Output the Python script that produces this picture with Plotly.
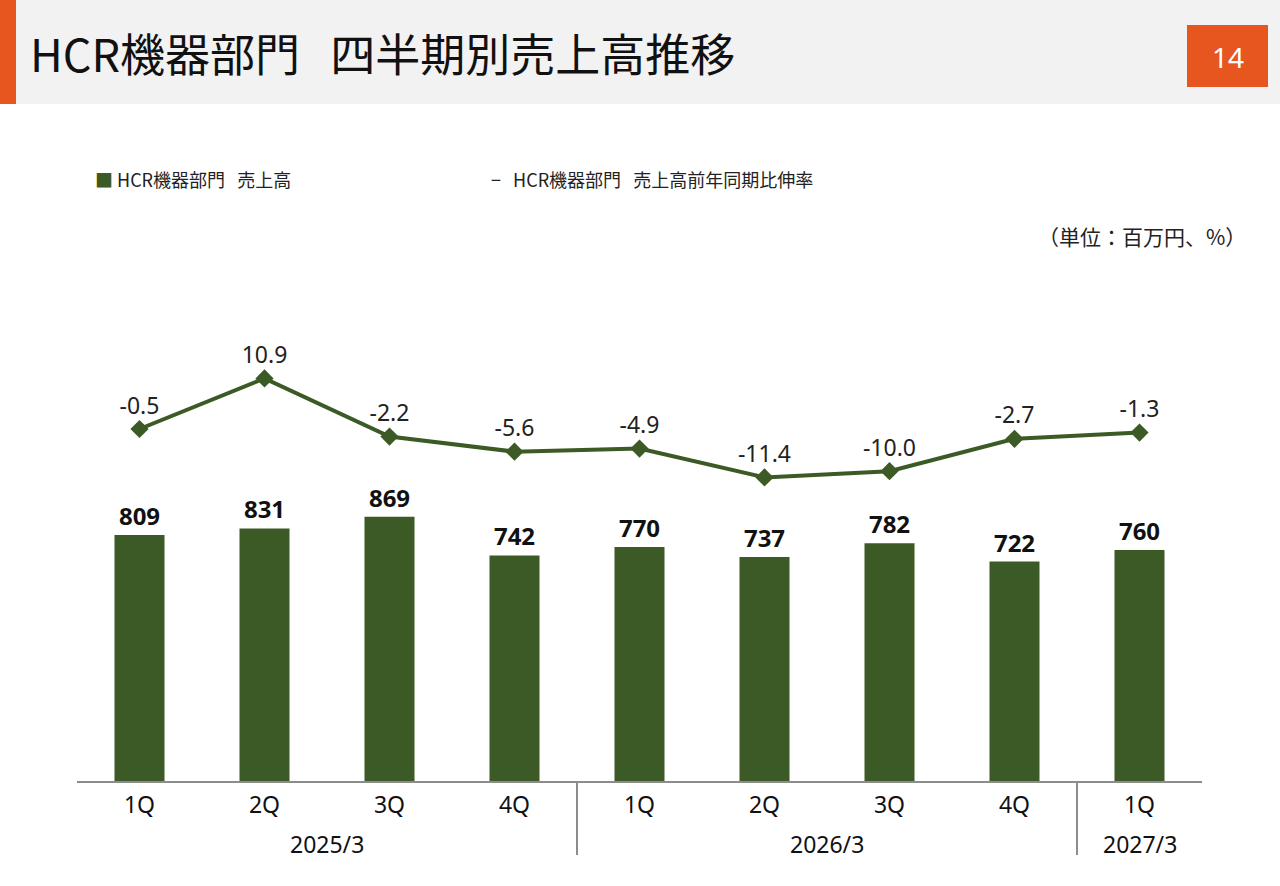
import plotly.graph_objects as go

# data
quarters = ["1Q", "2Q", "3Q", "4Q", "1Q", "2Q", "3Q", "4Q", "1Q"]
fiscal_years = ["2025/3", "2025/3", "2025/3", "2025/3",
                "2026/3", "2026/3", "2026/3", "2026/3", "2027/3"]
sales = [809, 831, 869, 742, 770, 737, 782, 722, 760]
yoy_growth = [-0.5, 10.9, -2.2, -5.6, -4.9, -11.4, -10.0, -2.7, -1.3]

GREEN = "#3c5a25"
ORANGE = "#e8561f"
FONT = "Noto Sans CJK JP"
NUM_FONT = "Noto Sans"

W, H = 1280, 886
L, R = 77, 78
TOP, BOT = 300, 781


def px_x(px):
    # pixel -> paper x
    return (px - L) / (W - L - R)


def px_y(px):
    # pixel -> paper y
    return (BOT - px) / (BOT - TOP)


x = list(range(len(quarters)))

fig = go.Figure()

fig.add_trace(go.Bar(
    x=x, y=sales,
    name="HCR機器部門  売上高",
    marker=dict(color=GREEN, line=dict(width=0)),
    width=0.4,
    text=[f"{v}" for v in sales],
    textposition="outside",
    textfont=dict(family=NUM_FONT, size=24, color="#111111", weight="bold"),
    cliponaxis=False,
    showlegend=False,
))

fig.add_trace(go.Scatter(
    x=x, y=yoy_growth,
    yaxis="y2",
    name="HCR機器部門  売上高前年同期比伸率",
    mode="lines+markers+text",
    line=dict(color=GREEN, width=4),
    marker=dict(symbol="diamond", size=14, color=GREEN),
    text=[f"{v:.1f}" for v in yoy_growth],
    textposition="top center",
    textfont=dict(family=NUM_FONT, size=23, color="#222222"),
    cliponaxis=False,
    showlegend=False,
))

# group labels and dividers on the x axis
groups = []
for i, fy in enumerate(fiscal_years):
    if not groups or groups[-1][0] != fy:
        groups.append([fy, i, i])
    else:
        groups[-1][2] = i

annotations = []
shapes = []
for k, (fy, a, b) in enumerate(groups):
    annotations.append(dict(
        x=(a + b) / 2, xref="x", y=px_y(844), yref="paper",
        text=fy, showarrow=False, xanchor="center", yanchor="middle",
        font=dict(family=NUM_FONT, size=23, color="#111111"),
    ))
    if k > 0:
        shapes.append(dict(
            type="line", xref="x", yref="paper",
            x0=a - 0.5, x1=a - 0.5, y0=0, y1=px_y(855),
            line=dict(color="#8c8c8c", width=2),
        ))

# header band, accent strip and page box
shapes += [
    dict(type="rect", xref="paper", yref="paper", layer="below",
         x0=px_x(0), x1=px_x(W), y0=px_y(104), y1=px_y(0),
         fillcolor="#f2f2f2", line=dict(width=0)),
    dict(type="rect", xref="paper", yref="paper",
         x0=px_x(0), x1=px_x(16), y0=px_y(104), y1=px_y(0),
         fillcolor=ORANGE, line=dict(width=0)),
    dict(type="rect", xref="paper", yref="paper",
         x0=px_x(1187), x1=px_x(1268), y0=px_y(87), y1=px_y(25),
         fillcolor=ORANGE, line=dict(width=0)),
]

annotations += [
    dict(x=px_x(28), y=px_y(53), xref="paper", yref="paper",
         text="HCR機器部門&nbsp;&nbsp;&nbsp;四半期別売上高推移", showarrow=False,
         xanchor="left", yanchor="middle",
         font=dict(family=FONT, size=45, color="#111111")),
    dict(x=px_x(1228), y=px_y(57), xref="paper", yref="paper",
         text="14", showarrow=False, xanchor="center", yanchor="middle",
         font=dict(family=NUM_FONT, size=28, color="#ffffff")),
    dict(x=px_x(93), y=px_y(179), xref="paper", yref="paper",
         text=f"<span style='color:{GREEN}'>■</span> HCR機器部門&nbsp;&nbsp;&nbsp;売上高",
         showarrow=False, xanchor="left", yanchor="middle",
         font=dict(family=FONT, size=18, color="#222222")),
    dict(x=px_x(489), y=px_y(179), xref="paper", yref="paper",
         text="−&nbsp;&nbsp;&nbsp;HCR機器部門&nbsp;&nbsp;&nbsp;売上高前年同期比伸率",
         showarrow=False, xanchor="left", yanchor="middle",
         font=dict(family=FONT, size=18, color="#222222")),
    dict(x=px_x(1248), y=px_y(236), xref="paper", yref="paper",
         text="（単位：百万円、%）",
         showarrow=False, xanchor="right", yanchor="middle",
         font=dict(family=FONT, size=21, color="#222222")),
]

px_per_sale = 0.304
px_per_pct = 4.44
zero_pct_px = 426.8

fig.update_layout(
    width=W, height=H,
    margin=dict(l=L, r=R, t=TOP, b=H - BOT, pad=0),
    paper_bgcolor="#ffffff",
    plot_bgcolor="#ffffff",
    font=dict(family=FONT, color="#111111"),
    bargap=0.6,
    xaxis=dict(
        tickmode="array", tickvals=x, ticktext=quarters,
        range=[-0.5, len(x) - 0.5],
        showgrid=False, zeroline=False,
        showline=True, linecolor="#8c8c8c", linewidth=2,
        ticks="", ticklabelstandoff=2,
        tickfont=dict(family=NUM_FONT, size=23, color="#111111"),
        fixedrange=True,
    ),
    yaxis=dict(
        range=[0, (BOT - TOP) / px_per_sale],
        visible=False, showgrid=False, zeroline=False,
    ),
    yaxis2=dict(
        range=[(zero_pct_px - BOT) / px_per_pct, (zero_pct_px - TOP) / px_per_pct],
        overlaying="y", side="right",
        visible=False, showgrid=False, zeroline=False,
    ),
    shapes=shapes,
    annotations=annotations,
)

# page body margin off so the figure sits at the window's corner
fig.write_html("out.html", config={"displayModeBar": False},
               post_script="document.body.style.margin='0';")
